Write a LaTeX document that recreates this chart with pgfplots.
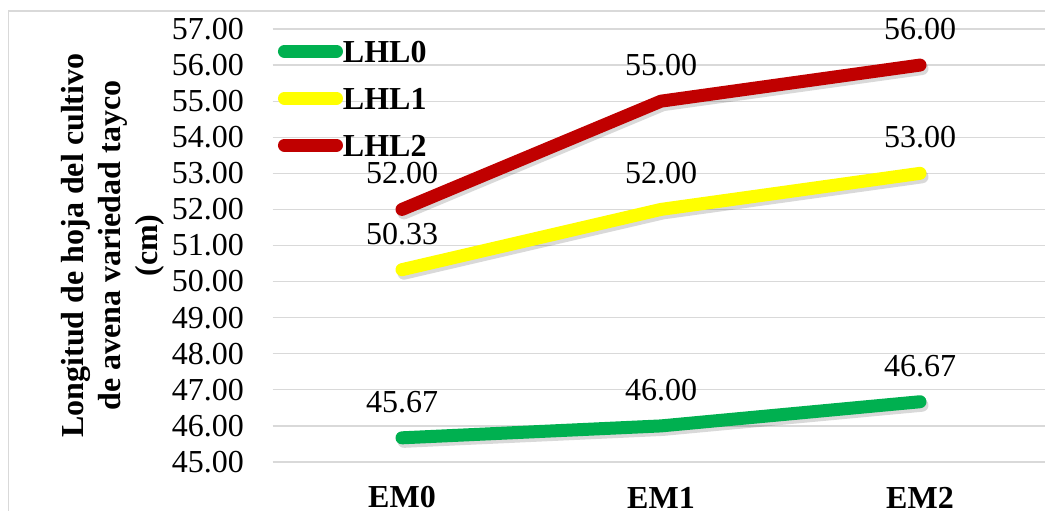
\documentclass[border=0pt]{standalone}
\usepackage{fontspec}
\setmainfont{Liberation Serif}
\usepackage{pgfplots}
\pgfplotsset{compat=1.18}
\pgfkeys{/pgf/number format/assume math mode=true}
\definecolor{cgreen}{HTML}{00B050}
\definecolor{cyellow}{HTML}{FFFF00}
\definecolor{cred}{HTML}{C00000}
\definecolor{cgrid}{HTML}{D9D9D9}
\begin{document}
\begin{tikzpicture}
\path[use as bounding box] (0,0) rectangle (1045bp,511bp);
\fill[white] (0,0) rectangle (1045bp,511bp);
\draw[cgrid, line width=1.3bp] (8.3bp,0) -- (8.3bp,500bp) -- (1045bp,500bp);
\begin{axis}[
  scale only axis,
  width=772.5bp, height=433bp,
  at={(272.5bp,49bp)}, anchor=south west,
  xmin=-0.5, xmax=2.4826,
  ymin=45, ymax=57,
  ytick={45,46,...,57},
  xtick={0,1,2},
  xticklabels={EM0,EM1,EM2},
  axis line style={draw=none},
  major tick length=0pt,
  ymajorgrids,
  grid style={cgrid, line width=1.3bp},
  font=\fontsize{32bp}{38bp}\selectfont,
  yticklabel style={inner sep=0pt, anchor=east, xshift=-28.5bp},
  yticklabel={\pgfmathprintnumber[fixed,fixed zerofill,precision=2]{\tick}},
  xticklabel style={inner sep=0pt, anchor=center, yshift=-35.5bp, font=\fontsize{32bp}{38bp}\selectfont\bfseries},
  clip=false,
  legend style={draw=none, fill=none, inner sep=0pt, outer sep=0pt,
    at={(0.0071,0.9714)}, anchor=north west,
    row sep=24.3bp,
    font=\fontsize{32bp}{38bp}\selectfont\bfseries,
    nodes={inner sep=0pt, anchor=west}},
  legend cell align=left,
  legend image code/.code={\draw[#1, line cap=round, line width=13bp] (0bp,1.5bp) -- (52bp,1.5bp);},
  nodes near coords style={anchor=center, yshift=36bp, text=black, font=\fontsize{32bp}{38bp}\selectfont},
]
% shadows
\addplot[forget plot, black, opacity=0.15, line width=13bp, line cap=round, line join=round, transform canvas={xshift=2bp, yshift=-3.5bp}] coordinates {(0,45.67) (1,46.00) (2,46.67)};
\addplot[forget plot, black, opacity=0.15, line width=13bp, line cap=round, line join=round, transform canvas={xshift=2bp, yshift=-3.5bp}] coordinates {(0,50.33) (1,52.00) (2,53.00)};
\addplot[forget plot, black, opacity=0.15, line width=13bp, line cap=round, line join=round, transform canvas={xshift=2bp, yshift=-3.5bp}] coordinates {(0,52.00) (1,55.00) (2,56.00)};
% series
\addplot[cgreen, line width=13bp, line cap=round, line join=round,
  nodes near coords={\pgfmathprintnumber[fixed,fixed zerofill,precision=2]{\pgfplotspointmeta}}]
  coordinates {(0,45.67) (1,46.00) (2,46.67)};
\addlegendentry{LHL0}
\addplot[cyellow, line width=13bp, line cap=round, line join=round,
  nodes near coords={\pgfmathprintnumber[fixed,fixed zerofill,precision=2]{\pgfplotspointmeta}}]
  coordinates {(0,50.33) (1,52.00) (2,53.00)};
\addlegendentry{LHL1}
\addplot[cred, line width=13bp, line cap=round, line join=round,
  nodes near coords={\pgfmathprintnumber[fixed,fixed zerofill,precision=2]{\pgfplotspointmeta}}]
  coordinates {(0,52.00) (1,55.00) (2,56.00)};
\addlegendentry{LHL2}
\end{axis}
\node[rotate=90, align=center, font=\fontsize{32bp}{37bp}\selectfont\bfseries] at (113bp,265.5bp)
  {Longitud de hoja del cultivo\\de avena variedad tayco\\(cm)};
\end{tikzpicture}
\end{document}
